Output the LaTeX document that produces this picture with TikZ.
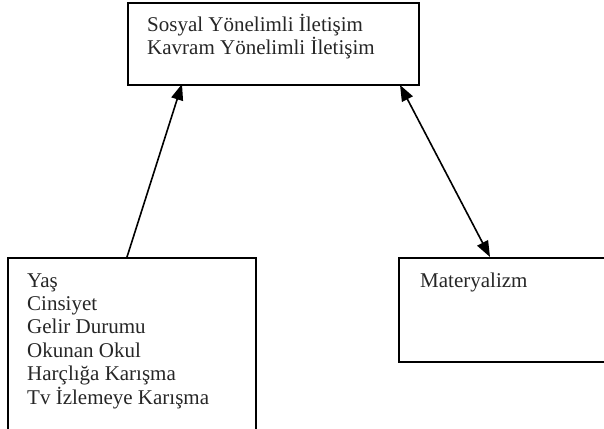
\documentclass[tikz,border=0pt]{standalone}
\usepackage{fontspec}
\setmainfont{Liberation Serif}
\usetikzlibrary{arrows.meta}
\begin{document}
\begin{tikzpicture}[x=1pt,y=-1pt,
  box/.style={draw,line width=2pt,anchor=north west,inner sep=0pt},
  txt/.style={anchor=base west,inner sep=0pt,align=left,font=\fontsize{21}{23.4}\selectfont,text=black!85},
  arr/.style={line width=1.6pt,-{Triangle[length=16pt,width=12pt]}},
  darr/.style={line width=1.6pt,{Triangle[length=16pt,width=12pt]}-{Triangle[length=16pt,width=12pt]}}]
\useasboundingbox (0,0) rectangle (604,428);
\clip (0,0) rectangle (604,428);
\node[box,minimum width=291pt,minimum height=82pt] (top) at (127,2) {};
\node[box,minimum width=248pt,minimum height=180pt] (left) at (7,257) {};
\node[box,minimum width=212pt,minimum height=104pt] (right) at (398,257) {};
\node[txt] (toptxt) at (147,55) {Sosyal Yönelimli İletişim\\Kavram Yönelimli İletişim};
\node[txt] (lefttxt) at (27,404) {Yaş\\Cinsiyet\\Gelir Durumu\\Okunan Okul\\Harçlığa Karışma\\Tv İzlemeye Karışma};
\node[txt] (righttxt) at (420,287) {Materyalizm};
\coordinate (a1) at (127,257);
\coordinate (a2) at (182,84);
\coordinate (b1) at (400,85);
\coordinate (b2) at (490,257);
\draw[arr] (a1) -- (a2);
\draw[darr] (b1) -- (b2);
\end{tikzpicture}
\end{document}
